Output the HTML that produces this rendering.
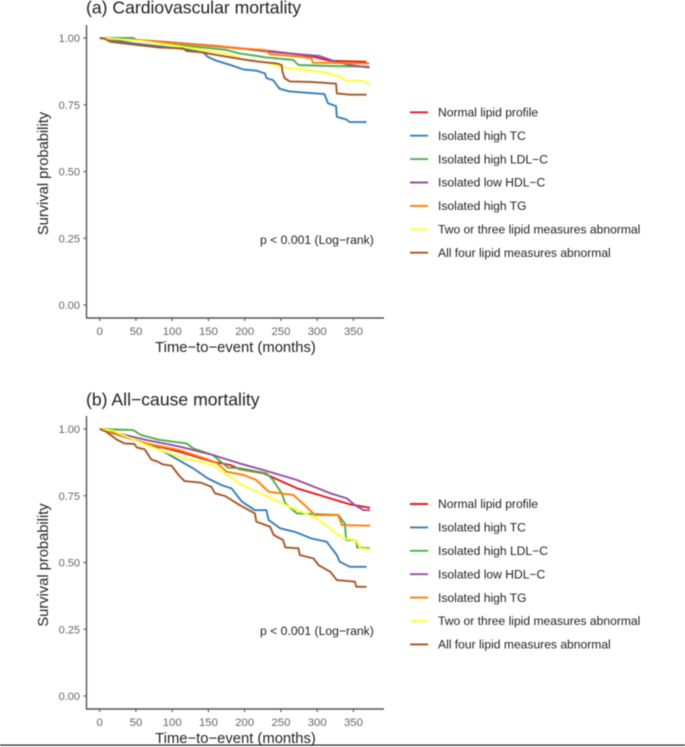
<!DOCTYPE html>
<html>
<head>
<meta charset="utf-8">
<style>
html,body{margin:0;padding:0;background:#fff;width:685px;height:747px;overflow:hidden}
svg{display:block;filter:blur(0.55px)}
text{font-family:"Liberation Sans",sans-serif}
</style>
</head>
<body>
<svg id="chart" width="685" height="747" viewBox="0 0 685 747" xmlns="http://www.w3.org/2000/svg">
  <rect width="685" height="747" fill="#fff"/>
  <text x="86" y="13.5" font-size="17.6" fill="#222">(a) Cardiovascular mortality</text>
  <text x="86" y="405.5" font-size="17.6" fill="#222">(b) All−cause mortality</text>
  <text transform="translate(48,173.5) rotate(-90)" text-anchor="middle" font-size="14.7" fill="#222">Survival probability</text>
  <text transform="translate(48,565) rotate(-90)" text-anchor="middle" font-size="14.7" fill="#222">Survival probability</text>
  <text x="235.5" y="352" text-anchor="middle" font-size="14.8" fill="#222">Time−to−event (months)</text>
  <text x="235.5" y="743" text-anchor="middle" font-size="14.8" fill="#222">Time−to−event (months)</text>
  <text x="260" y="244" font-size="12.2" fill="#222">p &lt; 0.001 (Log−rank)</text>
  <text x="260" y="635" font-size="12.2" fill="#222">p &lt; 0.001 (Log−rank)</text>
  <rect x="0" y="744.5" width="685" height="1.2" fill="#222"/>
</svg>
<script>
const xTicks = [0, 50, 100, 150, 200, 250, 300, 350];
const yTicks = [0, 0.25, 0.5, 0.75, 1];
const yTickLabels = ["0.00", "0.25", "0.50", "0.75", "1.00"];
const seriesNames = ["Normal lipid profile", "Isolated high TC", "Isolated high LDL−C", "Isolated low HDL−C", "Isolated high TG", "Two or three lipid measures abnormal", "All four lipid measures abnormal"];
const seriesColors = ["#E41A1C", "#377EB8", "#4DAF4A", "#984EA3", "#FF7F00", "#FFFF33", "#A65628"];

// Panel (a) cardiovascular mortality: [months], [survival]
const cvTimes = [
  [0, 64, 110, 156, 230, 260, 290, 317, 368],
  [0, 18, 46, 87, 120, 143, 149, 161, 179, 198, 216, 228, 230, 239, 244, 248, 262, 285, 310, 315, 326, 327, 340, 345, 368],
  [0, 46, 51, 106, 156, 175, 193, 230, 267, 274, 317, 372],
  [0, 51, 100, 156, 200, 230, 270, 303, 326, 345, 372],
  [0, 64, 120, 166, 200, 228, 235, 276, 292, 294, 372],
  [0, 18, 55, 106, 143, 175, 202, 230, 253, 285, 313, 331, 340, 363, 372],
  [0, 7, 14, 32, 51, 83, 115, 120, 143, 156, 175, 198, 221, 244, 251, 252, 255, 262, 294, 326, 327, 345, 368]
];
const cvSurvival = [
  [1, 0.99, 0.981, 0.971, 0.9525, 0.943, 0.9325, 0.915, 0.911],
  [1, 0.9925, 0.98, 0.9675, 0.9575, 0.945, 0.93, 0.915, 0.9, 0.8825, 0.8775, 0.8675, 0.85, 0.8425, 0.825, 0.81, 0.8, 0.795, 0.79, 0.755, 0.745, 0.705, 0.695, 0.685, 0.685],
  [1, 1, 0.9925, 0.974, 0.961, 0.955, 0.9425, 0.9275, 0.9175, 0.899, 0.895, 0.8925],
  [1, 0.9925, 0.983, 0.97, 0.959, 0.949, 0.94, 0.9325, 0.911, 0.899, 0.889],
  [1, 0.989, 0.978, 0.9675, 0.96, 0.955, 0.939, 0.93, 0.924, 0.9075, 0.905],
  [1, 0.9975, 0.99, 0.97, 0.955, 0.94, 0.9175, 0.9075, 0.89, 0.88, 0.87, 0.855, 0.841, 0.84, 0.8275],
  [1, 0.9975, 0.986, 0.98, 0.974, 0.964, 0.961, 0.951, 0.946, 0.939, 0.93, 0.92, 0.911, 0.905, 0.899, 0.874, 0.85, 0.8375, 0.835, 0.829, 0.7925, 0.7875, 0.7875]
];

// Panel (b) all-cause mortality: [months], [survival]
const acTimes = [
  [0, 64, 110, 156, 180, 193, 226, 272, 318, 345, 373],
  [0, 18, 51, 76, 101, 129, 149, 168, 182, 196, 214, 230, 233, 249, 269, 292, 313, 327, 331, 345, 368],
  [0, 46, 57, 83, 120, 129, 156, 177, 193, 230, 239, 251, 256, 272, 329, 338, 340, 354, 355, 373],
  [0, 64, 110, 156, 193, 226, 272, 318, 341, 352, 364, 373],
  [0, 64, 110, 145, 161, 175, 198, 216, 233, 267, 285, 297, 329, 334, 373],
  [0, 18, 64, 110, 156, 193, 226, 262, 299, 336, 354, 359, 373],
  [0, 9, 23, 34, 48, 51, 62, 71, 80, 87, 99, 110, 117, 140, 154, 159, 173, 193, 214, 216, 235, 240, 253, 256, 274, 276, 295, 302, 318, 327, 352, 354, 368]
];
const acSurvival = [
  [1, 0.946, 0.915, 0.8775, 0.865, 0.85, 0.834, 0.778, 0.74, 0.718, 0.705],
  [1, 0.984, 0.956, 0.934, 0.896, 0.8525, 0.815, 0.79, 0.7775, 0.728, 0.696, 0.696, 0.659, 0.628, 0.615, 0.59, 0.578, 0.528, 0.503, 0.484, 0.484],
  [1, 0.996, 0.9775, 0.959, 0.946, 0.9275, 0.9025, 0.855, 0.853, 0.834, 0.809, 0.759, 0.7215, 0.684, 0.678, 0.646, 0.584, 0.584, 0.556, 0.553],
  [1, 0.959, 0.934, 0.9025, 0.871, 0.846, 0.809, 0.759, 0.74, 0.715, 0.696, 0.696],
  [1, 0.946, 0.921, 0.89, 0.874, 0.84, 0.828, 0.809, 0.765, 0.753, 0.709, 0.678, 0.678, 0.64, 0.638],
  [1, 0.994, 0.94, 0.896, 0.865, 0.796, 0.753, 0.709, 0.665, 0.59, 0.584, 0.553, 0.549],
  [1, 0.99, 0.961, 0.946, 0.944, 0.931, 0.924, 0.886, 0.8775, 0.8675, 0.8625, 0.824, 0.805, 0.799, 0.784, 0.759, 0.749, 0.715, 0.684, 0.653, 0.634, 0.603, 0.584, 0.5565, 0.553, 0.528, 0.515, 0.49, 0.465, 0.434, 0.428, 0.409, 0.409]
];

const svgNS = "http://www.w3.org/2000/svg";
const chart = document.getElementById("chart");

function make(tag, attrs, parent) {
  const el = document.createElementNS(svgNS, tag);
  for (const k in attrs) el.setAttribute(k, attrs[k]);
  parent.appendChild(el);
  return el;
}

function scaleX(t) { return 99.7 + t * 0.725; }

function curvePath(times, values, scaleY) {
  let d = "M" + scaleX(times[0]).toFixed(1) + " " + scaleY(values[0]).toFixed(1);
  for (let i = 1; i < times.length; i++) {
    d += "L" + scaleX(times[i]).toFixed(1) + " " + scaleY(values[i]).toFixed(1);
  }
  return d;
}

function drawPanel(prefix, zeroY, legendTop, times, survival) {
  const scaleY = function (s) { return zeroY - s * 267; };
  const g = make("g", {}, chart);
  
  

  const axisColor = "#555";
  const axisY = make("line", { x1: 86.5, x2: 86.5, y1: zeroY - 280, y2: zeroY + 13.5, stroke: axisColor, "stroke-width": 1.4 }, g);
  
  
  const axisX = make("line", { x1: 86, x2: 384, y1: zeroY + 13, y2: zeroY + 13, stroke: axisColor, "stroke-width": 1.4 }, g);
  
  

  yTicks.forEach(function (v, i) {
    const tick = make("line", { x1: 83.5, x2: 86.5, y1: scaleY(v), y2: scaleY(v), stroke: axisColor, "stroke-width": 1.1 }, g);
    
    
    const label = make("text", { x: 80, y: scaleY(v) + 4, "text-anchor": "end", "font-size": 11, fill: "#666" }, g);
    
    
    label.textContent = yTickLabels[i];
  });

  xTicks.forEach(function (v) {
    const tick = make("line", { x1: scaleX(v), x2: scaleX(v), y1: zeroY + 13, y2: zeroY + 16, stroke: axisColor, "stroke-width": 1.1 }, g);
    
    
    const label = make("text", { x: scaleX(v), y: zeroY + 30, "text-anchor": "middle", "font-size": 11.4, fill: "#666" }, g);
    
    
    label.textContent = String(v);
  });

  seriesNames.forEach(function (name, i) {
    const line = make("path", { d: curvePath(times[i], survival[i], scaleY), fill: "none", stroke: seriesColors[i], "stroke-width": 1.9, "stroke-linejoin": "round" }, g);
    
    
  });

  const legendStep = 23.4;
  seriesNames.forEach(function (name, i) {
    const y = legendTop + i * legendStep;
    const key = make("line", { x1: 410, x2: 428, y1: y, y2: y, stroke: seriesColors[i], "stroke-width": 1.9 }, g);
    
    
    const text = make("text", { x: 438, y: y + 4.2, "font-size": 12.1, fill: "#222" }, g);
    
    
    text.textContent = name;
  });
}

drawPanel("panel-a", 305, 112.3, cvTimes, cvSurvival);
drawPanel("panel-b", 696, 504, acTimes, acSurvival);
</script>
</body>
</html>
